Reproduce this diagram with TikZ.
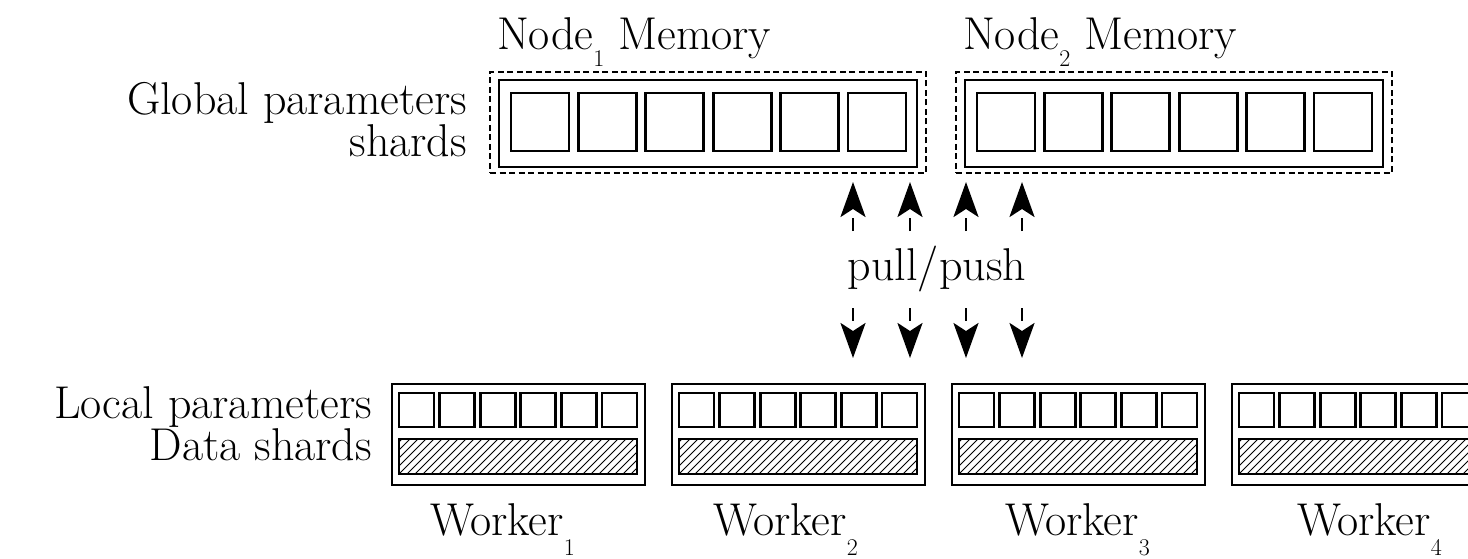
\documentclass[tikz,border=0pt]{standalone}
\usetikzlibrary{arrows.meta}
\newcommand\subdrop[2]{\raisebox{-#1pt}{\fontsize{24}{24}\selectfont #2}}
\begin{document}
\begin{tikzpicture}[x=1pt,y=-1pt,
  lbl/.style={inner sep=0pt, outer sep=0pt, font=\fontsize{46}{42}\selectfont},
  solidbox/.style={draw, line width=2.9pt, inner sep=0pt, outer sep=0pt, anchor=north west},
  dashbox/.style={draw, line width=2.9pt, dash pattern=on 6pt off 3.5pt, inner sep=0pt, outer sep=0pt, anchor=north west},
  cell/.style={solidbox},
  pparrow/.style={line width=2.8pt, dash pattern=on 13pt off 100pt, -{Stealth[length=35pt,width=25pt,inset=8pt]}}
]
\useasboundingbox (0,0) rectangle (1468,559);

% global parameter shards
\foreach \n/\dx in {1/0,2/466} {
  \node[dashbox, minimum width=436pt, minimum height=101pt] (nd\n) at (490+\dx,72) {};
  \node[solidbox, minimum width=418pt, minimum height=87pt] (nm\n) at (499+\dx,80) {};
  \foreach \i in {0,...,5}
    \node[cell, minimum width=58pt, minimum height=58pt] (nc\n\i) at ({511+\dx+67.4*\i},93) {};
}

% workers
\foreach \k in {0,...,3} {
  \node[solidbox, minimum width=253pt, minimum height=101pt] (w\k) at ({392+280*\k},384) {};
  \foreach \i in {0,...,5}
    \node[cell, minimum width=35pt, minimum height=34pt] (wc\k\i) at ({399+280*\k+40.6*\i},393) {};
  \node[solidbox, minimum width=238pt, minimum height=35pt] (d\k) at ({399+280*\k},439) {};
  \begin{scope}
    \clip (d\k.south west) rectangle (d\k.north east);
    \foreach \j in {0,...,36}
      \draw[line width=0.8pt] ({359+280*\k+8*\j},474) -- ++(35,-35);
  \end{scope}
}

% labels
\node[lbl, align=right, anchor=base east] (gp) at (467,157) {Global parameters\\shards};
\node[lbl, align=right, anchor=base east] (lp) at (372,460) {Local parameters\\Data shards};
\node[lbl, anchor=base west] (n1) at (497,50) {Node\subdrop{17}{1} Memory};
\node[lbl, anchor=base west] (n2) at (963,50) {Node\subdrop{17}{2} Memory};
\node[lbl, anchor=base] (pp) at (937,280) {pull/push};
\node[lbl, anchor=base west] (wl1) at (430,535) {Worker\subdrop{20}{1}};
\node[lbl, anchor=base west] (wl2) at (713,535) {Worker\subdrop{20}{2}};
\node[lbl, anchor=base west] (wl3) at (1005,535) {Worker\subdrop{20}{3}};
\node[lbl, anchor=base west] (wl4) at (1297,535) {Worker\subdrop{20}{4}};

% pull/push arrows
\foreach \a/\x in {1/853,2/910,3/966,4/1022} {
  \coordinate (us\a) at (\x,231);
  \coordinate (ut\a) at (\x,182);
  \coordinate (ds\a) at (\x,308);
  \coordinate (dt\a) at (\x,358);
  \draw[pparrow] (us\a) -- (ut\a);
  \draw[pparrow] (ds\a) -- (dt\a);
}
\end{tikzpicture}
\end{document}
